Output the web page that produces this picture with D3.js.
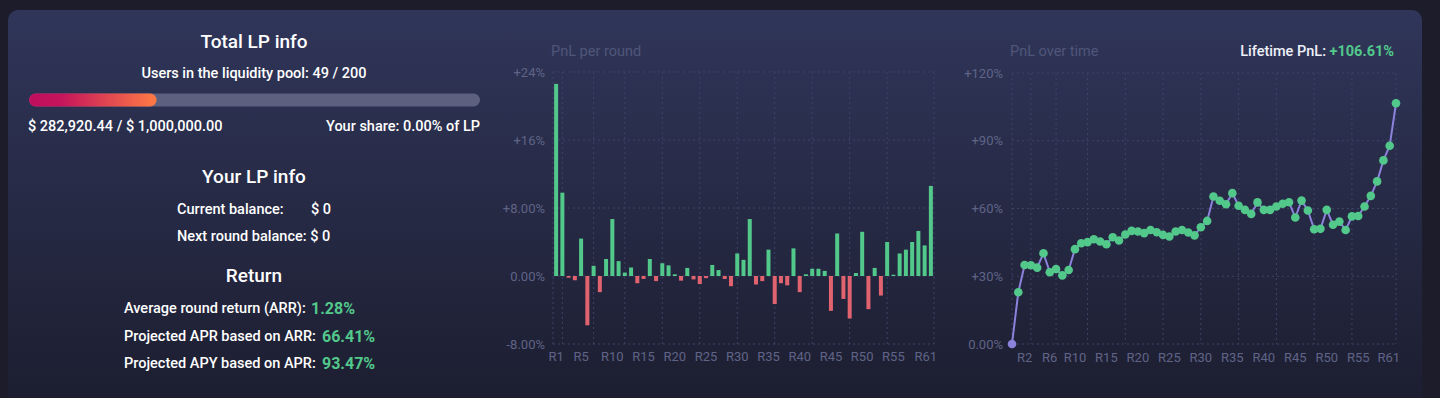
<!DOCTYPE html>
<html><head><meta charset="utf-8">
<script src="https://cdn.jsdelivr.net/npm/d3@7"></script>
<style>
html,body{margin:0;padding:0;background:#1c1c2b;overflow:hidden;}
svg{display:block;font-family:Roboto,"Noto Sans",sans-serif;}
</style></head>
<body><svg id="c" width="1440" height="398"></svg>
<script>
// ---- data ----
const barRounds = d3.range(1, 62).map(i => "R" + i);
const barValues = [22.6, 9.8, -0.2, -0.5, 4.4, -5.8, 1.2, -1.9, 2.0, 6.7,
  1.75, 0.4, 1.0, -0.85, -0.35, 2.0, -0.6, 1.5, 1.25, 0.2,
  -0.55, 0.95, -0.4, -0.95, -0.25, 1.3, 0.7, -0.35, -1.2, 2.65,
  1.9, 6.7, -1.0, -0.6, 3.1, -3.3, -0.85, -1.1, 3.25, -1.9,
  0.2, 0.85, 0.85, 0.6, -4.1, 5.0, -2.7, -5.0, 0.35, 5.2,
  -3.9, 0.95, -2.3, 4.0, 0.15, 2.65, 3.1, 4.0, 5.3, 3.6, 10.6];
const barTickLabels = ["R1","R5","R10","R15","R20","R25","R30","R35","R40","R45","R50","R55","R61"];
const barGridRounds = ["R2","R7","R12","R18","R24","R30","R36","R42","R48","R54"];
const barYTicks = [24, 16, 8, 0, -8];
const barYTickLabels = ["+24%", "+16%", "+8.00%", "0.00%", "-8.00%"];

const lineRounds = d3.range(0, 62).map(i => "R" + i);
const lineValues = [0, 22.9, 35.0, 34.9, 33.8, 40.2, 31.8, 33.2, 30.4, 32.8,
  42.0, 44.6, 45.1, 46.4, 45.4, 44.2, 47.3, 45.8, 48.5, 50.1,
  49.8, 49.1, 50.5, 49.5, 48.3, 47.6, 49.8, 50.5, 49.4, 48.1,
  51.7, 54.5, 65.3, 63.4, 61.9, 66.8, 61.2, 59.4, 57.6, 62.7,
  59.4, 59.4, 60.9, 62.1, 62.8, 56.0, 63.5, 59.1, 50.8, 51.0,
  59.4, 52.8, 54.2, 50.5, 56.5, 56.7, 60.9, 65.6, 72.0, 81.3,
  87.8, 106.61];
const lineTickLabels = ["R2","R6","R10","R15","R20","R25","R30","R35","R40","R45","R50","R55","R61"];
const lineGridRounds = ["R3","R7","R12","R18","R24","R30","R36","R42","R48","R54"];
const lineYTicks = [120, 90, 60, 30, 0];
const lineYTickLabels = ["+120%", "+90%", "+60%", "+30%", "0.00%"];

const poolUsers = 49, poolMaxUsers = 200;
const poolValue = 282920.44, poolMax = 1000000;

// ---- styles ----
const GREEN = "#52c88b", RED = "#e0636f", PURPLE = "#8c82dc";
const AXIS_TXT = "#5f6487", GRID = "#3e4366", TITLE = "#50567a";

const svg = d3.select("#c");
const defs = svg.append("defs");
const bg = defs.append("linearGradient").attr("id","bg").attr("x1",0).attr("y1",0).attr("x2",0).attr("y2",1);
bg.append("stop").attr("offset","0%").attr("stop-color","#30365a");
bg.append("stop").attr("offset","100%").attr("stop-color","#1c1d2f");
const pg = defs.append("linearGradient").attr("id","pg").attr("x1",0).attr("y1",0).attr("x2",1).attr("y2",0);
pg.append("stop").attr("offset","0%").attr("stop-color","#bf0f5d");
pg.append("stop").attr("offset","25%").attr("stop-color","#c4145c");
pg.append("stop").attr("offset","100%").attr("stop-color","#ff7b45");

svg.append("rect").attr("x",8).attr("y",10).attr("width",1414).attr("height",400).attr("rx",10).attr("fill","url(#bg)");

// ---- left panel ----
const L = svg.append("g");
const cx = 254;
function t(x, y, s, o) {
  o = o || {};
  return L.append("text").attr("x", x).attr("y", y).text(s)
    .attr("font-size", o.size || 14.5).attr("font-weight", o.weight || 500)
    .attr("fill", o.fill || "#ffffff").attr("text-anchor", o.anchor || "start")
    .attr("dominant-baseline", "central");
}
t(cx, 41, "Total LP info", {size: 19, anchor: "middle"});
t(cx, 73, `Users in the liquidity pool: ${poolUsers} / ${poolMaxUsers}`, {anchor: "middle"});
const px = d3.scaleLinear().domain([0, poolMax]).range([0, 451]);
L.append("rect").attr("x", 29).attr("y", 93.5).attr("width", 451).attr("height", 13).attr("rx", 6.5).attr("fill", "#5d607f");
L.append("rect").attr("x", 29).attr("y", 93.5).attr("width", px(poolValue)).attr("height", 13).attr("rx", 6.5).attr("fill", "url(#pg)");
const fmt = d3.format(",.2f");
t(28, 126, `$ ${fmt(poolValue)} / $ ${fmt(poolMax)}`);
t(480, 126, "Your share: 0.00% of LP", {anchor: "end"});
t(cx, 176, "Your LP info", {size: 19, anchor: "middle"});
t(177, 209, "Current balance:");
t(311, 209, "$ 0");
t(177, 236, "Next round balance: $ 0");
t(cx, 275, "Return", {size: 19, anchor: "middle"});
t(124, 308, "Average round return (ARR):");
t(311, 308, "1.28%", {size: 16, weight: 700, fill: GREEN});
t(124, 336, "Projected APR based on ARR:");
t(322, 336, "66.41%", {size: 16, weight: 700, fill: GREEN});
t(124, 363, "Projected APY based on APR:");
t(322, 363, "93.47%", {size: 16, weight: 700, fill: GREEN});

// ---- bar chart ----
{
  const x0 = 553, x1 = 934, y0 = 72, y1 = 344;
  const g = svg.append("g");
  const x = d3.scaleBand().domain(barRounds).range([x0, x1]).paddingInner(0.36).paddingOuter(0.18);
  const y = d3.scaleLinear().domain([-8, 24]).range([y1, y0]);
  g.append("text").attr("x", 551).attr("y", 51).attr("dominant-baseline","central")
    .attr("font-size", 14.5).attr("fill", TITLE).text("PnL per round");
  g.selectAll(".hg").data(barYTicks).join("line")
    .attr("x1", x0).attr("x2", x1).attr("y1", d => y(d)).attr("y2", d => y(d))
    .attr("stroke", GRID).attr("stroke-dasharray", "2,3");
  const vx = [x0, ...barGridRounds.map(r => x(r) + x.bandwidth() / 2), x1];
  g.selectAll(".vg").data(vx).join("line")
    .attr("x1", d => d).attr("x2", d => d).attr("y1", y0).attr("y2", y1)
    .attr("stroke", GRID).attr("stroke-dasharray", "2,3");
  g.selectAll(".yl").data(barYTicks).join("text")
    .attr("x", 545).attr("y", d => y(d)).attr("text-anchor", "end").attr("dominant-baseline","central")
    .attr("font-size", 13).attr("fill", AXIS_TXT).text((d, i) => barYTickLabels[i]);
  g.selectAll(".bar").data(barValues).join("rect")
    .attr("x", (d, i) => x(barRounds[i])).attr("width", x.bandwidth())
    .attr("y", d => y(Math.max(0, d))).attr("height", d => Math.max(0.8, Math.abs(y(d) - y(0))))
    .attr("fill", d => d >= 0 ? GREEN : RED);
  g.selectAll(".xl").data(barTickLabels).join("text")
    .attr("x", (d, i) => i === barTickLabels.length - 1 ? x1 + 3 : x(d) + x.bandwidth() / 2)
    .attr("text-anchor", (d, i) => i === barTickLabels.length - 1 ? "end" : "middle")
    .attr("y", 356).attr("dominant-baseline","central")
    .attr("font-size", 13).attr("fill", AXIS_TXT).text(d => d);
}

// ---- line chart ----
{
  const x0 = 1012, x1 = 1396, y0 = 73, y1 = 344;
  const g = svg.append("g");
  const x = d3.scalePoint().domain(lineRounds).range([x0, x1]);
  const y = d3.scaleLinear().domain([0, 120]).range([y1, y0]);
  g.append("text").attr("x", 1010).attr("y", 51).attr("dominant-baseline","central")
    .attr("font-size", 14.5).attr("fill", TITLE).text("PnL over time");
  const lt = g.append("text").attr("x", 1394).attr("y", 51).attr("text-anchor","end").attr("dominant-baseline","central")
    .attr("font-size", 14.5);
  lt.append("tspan").attr("fill", "#eef0f8").attr("font-weight", 500).text("Lifetime PnL: ");
  lt.append("tspan").attr("fill", GREEN).attr("font-weight", 700).text("+" + lineValues[lineValues.length - 1].toFixed(2) + "%");
  g.selectAll(".hg").data(lineYTicks).join("line")
    .attr("x1", x0).attr("x2", x1).attr("y1", d => y(d)).attr("y2", d => y(d))
    .attr("stroke", GRID).attr("stroke-dasharray", "2,3");
  const vx = [x0, ...lineGridRounds.map(r => x(r)), x1];
  g.selectAll(".vg").data(vx).join("line")
    .attr("x1", d => d).attr("x2", d => d).attr("y1", y0).attr("y2", y1)
    .attr("stroke", GRID).attr("stroke-dasharray", "2,3");
  g.selectAll(".yl").data(lineYTicks).join("text")
    .attr("x", 1003).attr("y", d => y(d)).attr("text-anchor", "end").attr("dominant-baseline","central")
    .attr("font-size", 13).attr("fill", AXIS_TXT).text((d, i) => lineYTickLabels[i]);
  const line = d3.line().x((d, i) => x(lineRounds[i])).y(d => y(d));
  g.append("path").datum(lineValues).attr("d", line).attr("fill", "none")
    .attr("stroke", PURPLE).attr("stroke-width", 2);
  g.selectAll(".pt").data(lineValues).join("circle")
    .attr("cx", (d, i) => x(lineRounds[i])).attr("cy", d => y(d)).attr("r", 4.3)
    .attr("fill", (d, i) => i === 0 ? PURPLE : GREEN);
  g.selectAll(".xl").data(lineTickLabels).join("text")
    .attr("x", (d, i) => i === lineTickLabels.length - 1 ? x1 + 4 : x(d))
    .attr("text-anchor", (d, i) => i === lineTickLabels.length - 1 ? "end" : "middle")
    .attr("y", 357).attr("dominant-baseline","central")
    .attr("font-size", 13).attr("fill", AXIS_TXT).text(d => d);
}
</script></body></html>
